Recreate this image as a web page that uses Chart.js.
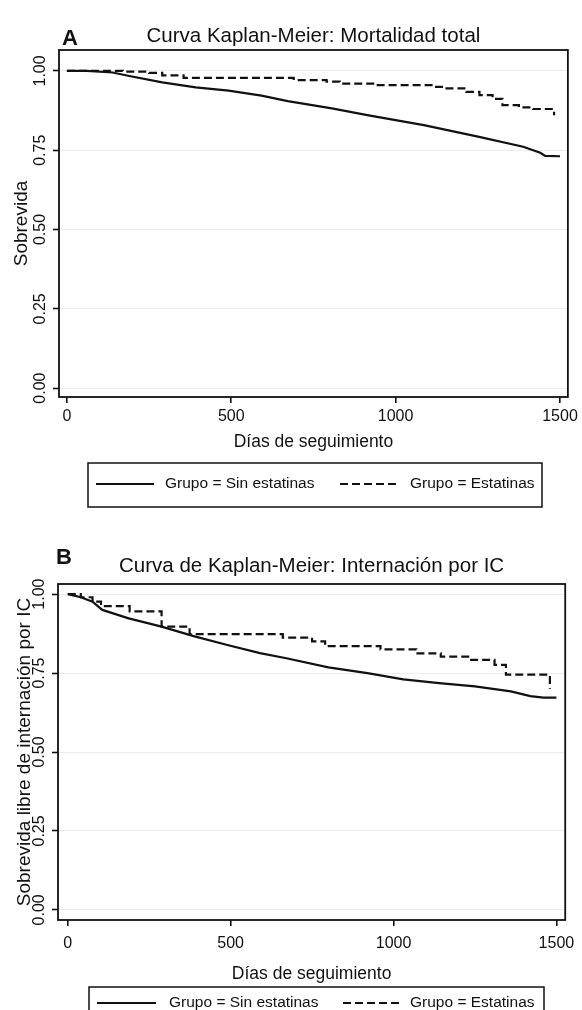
<!DOCTYPE html>
<html>
<head>
<meta charset="utf-8">
<script src="https://cdn.jsdelivr.net/npm/chart.js@4.4.0/dist/chart.umd.min.js"></script>
<style>
  html, body { margin: 0; padding: 0; background: #fff; }
  body { width: 582px; height: 1010px; position: relative; overflow: hidden; }
  .panel { position: absolute; left: 0; width: 582px; }
  #panelA { top: 0; height: 530px; }
  #panelB { top: 530px; height: 480px; }
</style>
</head>
<body>
<div class="panel" id="panelA"><canvas id="graficoA"></canvas></div>
<div class="panel" id="panelB"><canvas id="graficoB"></canvas></div>
<script>
const nombresGrupo = ['Grupo = Sin estatinas', 'Grupo = Estatinas']
const diasTicks = [0, 500, 1000, 1500]
const sobrevidaTicks = [0, 0.25, 0.5, 0.75, 1]
const etiquetasY = ['0.00', '0.25', '0.50', '0.75', '1.00']

// A: mortalidad total
const mortSinDias = [0, 60, 139, 190, 290, 392, 492, 592, 672, 806, 918, 1086, 1254, 1388, 1440, 1455, 1500]
const mortSinVal = [1.0, 1.0, 0.995, 0.984, 0.964, 0.948, 0.938, 0.922, 0.905, 0.882, 0.86, 0.829, 0.792, 0.761, 0.742, 0.732, 0.731]
const mortConDias = [0, 170, 250, 290, 355, 690, 790, 830, 935, 1115, 1155, 1215, 1255, 1295, 1325, 1375, 1418, 1482]
const mortConVal = [1.0, 0.998, 0.994, 0.986, 0.978, 0.971, 0.966, 0.96, 0.955, 0.95, 0.945, 0.934, 0.924, 0.912, 0.892, 0.885, 0.88, 0.86]

// B: internacion por IC
const intSinDias = [0, 40, 76, 106, 187, 288, 389, 490, 590, 671, 800, 920, 1030, 1140, 1250, 1360, 1420, 1460, 1500]
const intSinVal = [1.0, 0.99, 0.976, 0.95, 0.923, 0.897, 0.866, 0.839, 0.813, 0.797, 0.768, 0.75, 0.73, 0.718, 0.708, 0.692, 0.677, 0.672, 0.672]
const intConDias = [0, 40, 76, 102, 190, 288, 374, 660, 750, 790, 960, 1070, 1145, 1235, 1310, 1345, 1480]
const intConVal = [1.0, 0.99, 0.976, 0.962, 0.945, 0.897, 0.873, 0.862, 0.85, 0.835, 0.825, 0.812, 0.802, 0.792, 0.776, 0.745, 0.70]

const SANS = "'Liberation Sans', Arial, sans-serif"
const NEGRO = '#111'

const puntos = (dias, val) => dias.map((d, i) => ({ x: d, y: val[i] }))

// marco, etiquetas del eje y giradas, letra del panel y leyenda con recuadro
const pluginMarco = {
    id: 'marco',
    afterDraw(chart, args, opts) {
        const { ctx, chartArea: a, scales } = chart
        ctx.save()
        ctx.strokeStyle = NEGRO
        ctx.fillStyle = NEGRO
        ctx.lineWidth = 1.8
        ctx.strokeRect(a.left, a.top, a.right - a.left, a.bottom - a.top)

        ctx.font = '16px ' + SANS
        ctx.textAlign = 'center'
        ctx.textBaseline = 'middle'
        sobrevidaTicks.forEach((v, i) => {
            const y = scales.y.getPixelForValue(v)
            ctx.save()
            ctx.translate(opts.xEtiqY, y)
            ctx.rotate(-Math.PI / 2)
            ctx.fillText(etiquetasY[i], 0, 0)
            ctx.restore()
        })

        ctx.font = 'bold 22px ' + SANS
        ctx.fillText(opts.letra, opts.letraX, opts.letraY)

        const L = opts.leyenda
        ctx.lineWidth = 1.5
        ctx.strokeRect(L.x, L.y, L.w, L.h)
        const cy = L.y + L.textoY
        chart.data.datasets.forEach((ds, i) => {
            const m = L.muestras[i]
            ctx.beginPath()
            ctx.setLineDash(ds.borderDash || [])
            ctx.lineWidth = 2
            ctx.moveTo(m[0], cy)
            ctx.lineTo(m[1], cy)
            ctx.stroke()
            ctx.setLineDash([])
            ctx.font = '15.5px ' + SANS
            ctx.textAlign = 'left'
            ctx.fillText(ds.label, m[2], cy)
        })
        ctx.restore()
    }
}

function crearGrafico(id, p) {
    return new Chart(document.getElementById(id), {
        type: 'line',
        data: {
            datasets: [{
                label: nombresGrupo[0],
                data: puntos(p.sinDias, p.sinVal),
                borderColor: NEGRO,
                borderWidth: 2.2,
                pointRadius: 0,
                tension: 0
            }, {
                label: nombresGrupo[1],
                data: puntos(p.conDias, p.conVal),
                borderColor: NEGRO,
                borderWidth: 2.2,
                borderDash: [8, 4],
                stepped: 'before',   // la caida ocurre en el dia del evento
                pointRadius: 0
            }]
        },
        options: {
            responsive: true,
            maintainAspectRatio: false,
            animation: false,
            layout: { padding: { left: 0, right: p.padDer, top: 0, bottom: p.padInf } },
            plugins: {
                legend: { display: false },
                tooltip: { enabled: false },
                title: {
                    display: true,
                    text: p.titulo,
                    color: NEGRO,
                    fullSize: false,
                    font: { family: SANS, size: 20.5, weight: 'normal', lineHeight: 1.2 },
                    padding: { top: p.tituloPadSup, bottom: p.tituloPadInf }
                },
                marco: p.marco
            },
            scales: {
                x: {
                    type: 'linear',
                    min: p.xMin,
                    max: p.xMax,
                    afterBuildTicks: s => { s.ticks = diasTicks.map(v => ({ value: v })) },
                    afterFit: s => { s.height = 70 },
                    border: { display: false },
                    grid: { drawOnChartArea: false, color: NEGRO, tickLength: 6, lineWidth: 1.6 },
                    ticks: {
                        color: NEGRO,
                        font: { family: SANS, size: 16 },
                        padding: p.xTickPad,
                        maxRotation: 0,
                        autoSkip: false,
                        callback: v => String(v)
                    },
                    title: {
                        display: true,
                        text: 'Días de seguimiento',
                        color: NEGRO,
                        font: { family: SANS, size: 17.5 },
                        padding: { top: 0, bottom: p.xTitPad }
                    }
                },
                y: {
                    min: p.yMin,
                    max: p.yMax,
                    afterBuildTicks: s => { s.ticks = sobrevidaTicks.map(v => ({ value: v })) },
                    afterFit: s => { s.width = p.anchoY },
                    border: { display: false },
                    grid: { color: '#ececec', lineWidth: 1, tickColor: NEGRO, tickWidth: 1.6, tickLength: 6 },
                    ticks: { display: false },
                    title: {
                        display: true,
                        text: p.tituloY,
                        color: NEGRO,
                        font: { family: SANS, size: 19 },
                        padding: { top: p.yTitPad, bottom: 0 }
                    }
                }
            }
        },
        plugins: [pluginMarco]
    })
}

const graficoA = crearGrafico('graficoA', {
    titulo: 'Curva Kaplan-Meier: Mortalidad total',
    tituloY: 'Sobrevida',
    sinDias: mortSinDias, sinVal: mortSinVal,
    conDias: mortConDias, conVal: mortConVal,
    xMin: -24, xMax: 1524, yMin: -0.028, yMax: 1.066,
    anchoY: 59, padDer: 10, padInf: 63, tituloPadSup: 23.7, tituloPadInf: 1.7,
    xTickPad: 4, xTitPad: 14, yTitPad: 10,
    marco: {
        xEtiqY: 41, letra: 'A', letraX: 70, letraY: 39,
        leyenda: { x: 88, y: 463, w: 454, h: 44, textoY: 21, muestras: [[96, 154, 165], [340, 399, 410]] }
    }
})

const graficoB = crearGrafico('graficoB', {
    titulo: 'Curva de Kaplan-Meier: Internación por IC',
    tituloY: 'Sobrevida libre de internación por IC',
    sinDias: intSinDias, sinVal: intSinVal,
    conDias: intConDias, conVal: intConVal,
    xMin: -30, xMax: 1527, yMin: -0.032, yMax: 1.032,
    anchoY: 58, padDer: 9, padInf: 20, tituloPadSup: 23.7, tituloPadInf: 5.7,
    xTickPad: 7.5, xTitPad: 5, yTitPad: 13.6,
    marco: {
        xEtiqY: 40, letra: 'B', letraX: 64, letraY: 28,
        leyenda: { x: 89, y: 457, w: 455, h: 44, textoY: 16, muestras: [[97, 156, 169], [343, 401, 410]] }
    }
})
</script>
</body>
</html>
